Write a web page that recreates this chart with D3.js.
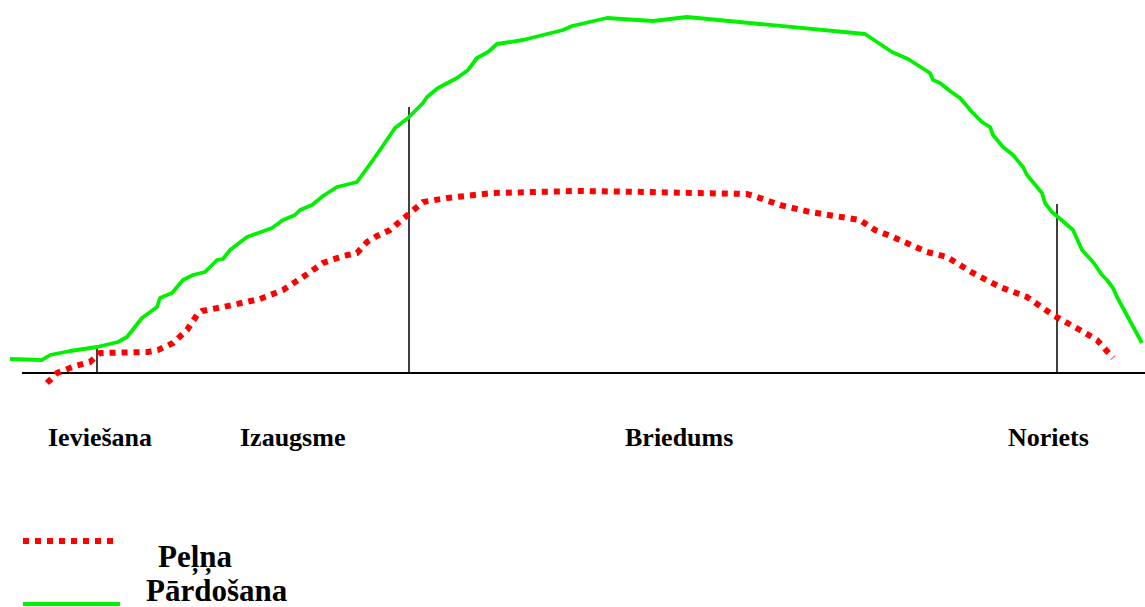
<!DOCTYPE html>
<html>
<head>
<meta charset="utf-8">
<script src="https://cdn.jsdelivr.net/npm/d3@7"></script>
<style>
  body { margin: 0; background: #fff; }
  svg { display: block; }
  text { font-family: 'Liberation Serif', 'Times New Roman', serif; font-weight: bold; fill: #000; }
</style>
</head>
<body>
<svg width="1145" height="607"></svg>
<script>
// time (t) and level (v)
const salesT = [0, 3.2, 4, 6, 8.7, 10.8, 11.7, 13.2, 14.7, 15, 16.2, 17.3, 18.3, 19.5, 20.7, 21.3, 22, 23.7, 26.2, 27.3, 28.5, 29, 30.2, 31.3, 32.7, 34.7, 36.3, 37, 38.5, 39.8, 41.3, 41.7, 42.8, 44.7, 45.8, 46.7, 47.8, 48.7, 51.3, 55.3, 56.2, 59.7, 64.3, 67.7, 75, 85.5, 88.2, 89.8, 92, 92.3, 93, 94, 95, 96.2, 97.2, 98, 98.3, 99.3, 100.3, 101.3, 101.7, 103.2, 103.5, 104.2, 104.8, 106.3, 107.2, 108.3, 109.2, 109.7, 110.3, 110.7, 113.2]
const salesV = [3.5, 3.25, 4.5, 5.5, 6.5, 7.75, 9, 13.75, 16.5, 18.75, 20, 23.25, 24.5, 25.25, 28.25, 28.5, 30.75, 34, 36.25, 38.25, 39.5, 40.75, 42, 44.25, 46.5, 47.75, 53.25, 55.75, 61.25, 63.75, 67.5, 69, 71.25, 73.75, 75.75, 78.75, 80.25, 82.25, 83.25, 85.75, 86.75, 88.75, 88, 89, 87.25, 84.75, 80.25, 78.5, 75, 73.25, 72.5, 70.5, 68.75, 65.25, 62.75, 61.5, 59.5, 56.5, 54.5, 51.5, 49.5, 45, 42.5, 40.25, 39, 35.75, 30.75, 27.75, 24.5, 23.25, 21.25, 19, 7.5]

const profitT = [3.7, 4.7, 6.5, 8, 9, 13.8, 14.8, 16.3, 17.7, 18.7, 19.2, 21.3, 25, 27.3, 29.3, 31.3, 33.3, 34.7, 35.7, 36.7, 38, 40, 41.3, 43.7, 48.3, 56.7, 63.7, 73.7, 74.7, 77, 80, 85, 86.5, 88.3, 91.7, 93.7, 96.3, 99, 101.7, 104.3, 107, 108.7, 110.3]
const profitV = [-2.5, 0, 1.75, 2.75, 5, 5.25, 5.75, 7.5, 10.75, 14.5, 15.5, 16.5, 18.5, 20.75, 24, 27.5, 29.25, 30, 32.75, 34.25, 35.75, 40, 42.75, 43.75, 45, 45.5, 45.25, 44.75, 44, 42, 40.25, 38.25, 35.75, 34, 30.25, 29, 25, 21.5, 19, 14.5, 10.75, 8.25, 3.75]

const phaseNames = ['Ieviešana', 'Izaugsme', 'Briedums', 'Noriets']
const phaseLabelT = [3.8, 23, 61.5, 99.8]
const boundaryT = [8.7, 39.9, 104.7]
const boundaryV = [6.25, 66.5, 42.25]
const axisExtent = [1.2, 113.5]

const legendNames = ['Peļņa', 'Pārdošana']

const svg = d3.select('svg')

const x = d3.scaleLinear().domain([0, 113.1]).range([10, 1141])
const y = d3.scaleLinear().domain([0, 89]).range([373, 17])

const line = d3.line()
  .x(function (d) { return x(d[0]) })
  .y(function (d) { return y(d[1]) })

const sales = salesT.map(function (t, i) { return [t, salesV[i]] })
const profit = profitT.map(function (t, i) { return [t, profitV[i]] })

// base line
svg.append('line')
  .attr('x1', x(axisExtent[0])).attr('x2', x(axisExtent[1]))
  .attr('y1', y(0)).attr('y2', y(0))
  .attr('stroke', '#000').attr('stroke-width', 2)

// phase borders
svg.selectAll('.border')
  .data(boundaryT)
  .enter()
  .append('line')
  .attr('class', 'border')
  .attr('x1', function (d) { return x(d) })
  .attr('x2', function (d) { return x(d) })
  .attr('y1', y(0))
  .attr('y2', function (d, i) { return y(boundaryV[i]) })
  .attr('stroke', '#000')
  .attr('stroke-width', 1.5)

svg.append('path')
  .attr('d', line(sales))
  .attr('fill', 'none')
  .attr('stroke', '#00f000')
  .attr('stroke-width', 3.8)
  .attr('stroke-linejoin', 'round')

svg.append('path')
  .attr('d', line(profit))
  .attr('fill', 'none')
  .attr('stroke', '#ff0000')
  .attr('stroke-width', 6)
  .attr('stroke-dasharray', '6,6')

svg.selectAll('.phase')
  .data(phaseNames)
  .enter()
  .append('text')
  .attr('class', 'phase')
  .attr('x', function (d, i) { return x(phaseLabelT[i]) })
  .attr('y', 446)
  .style('font-size', '26px')
  .text(function (d) { return d })

// legend
svg.append('line')
  .attr('x1', 23).attr('x2', 113)
  .attr('y1', 541).attr('y2', 541)
  .attr('stroke', '#ff0000')
  .attr('stroke-width', 6)
  .attr('stroke-dasharray', '6,6')

svg.append('line')
  .attr('x1', 23).attr('x2', 120)
  .attr('y1', 604).attr('y2', 604)
  .attr('stroke', '#00f000')
  .attr('stroke-width', 4)

svg.selectAll('.legend')
  .data(legendNames)
  .enter()
  .append('text')
  .attr('class', 'legend')
  .attr('x', function (d, i) { return i === 0 ? 158 : 146 })
  .attr('y', function (d, i) { return i === 0 ? 567 : 601 })
  .style('font-size', '31px')
  .text(function (d) { return d })
</script>
</body>
</html>
